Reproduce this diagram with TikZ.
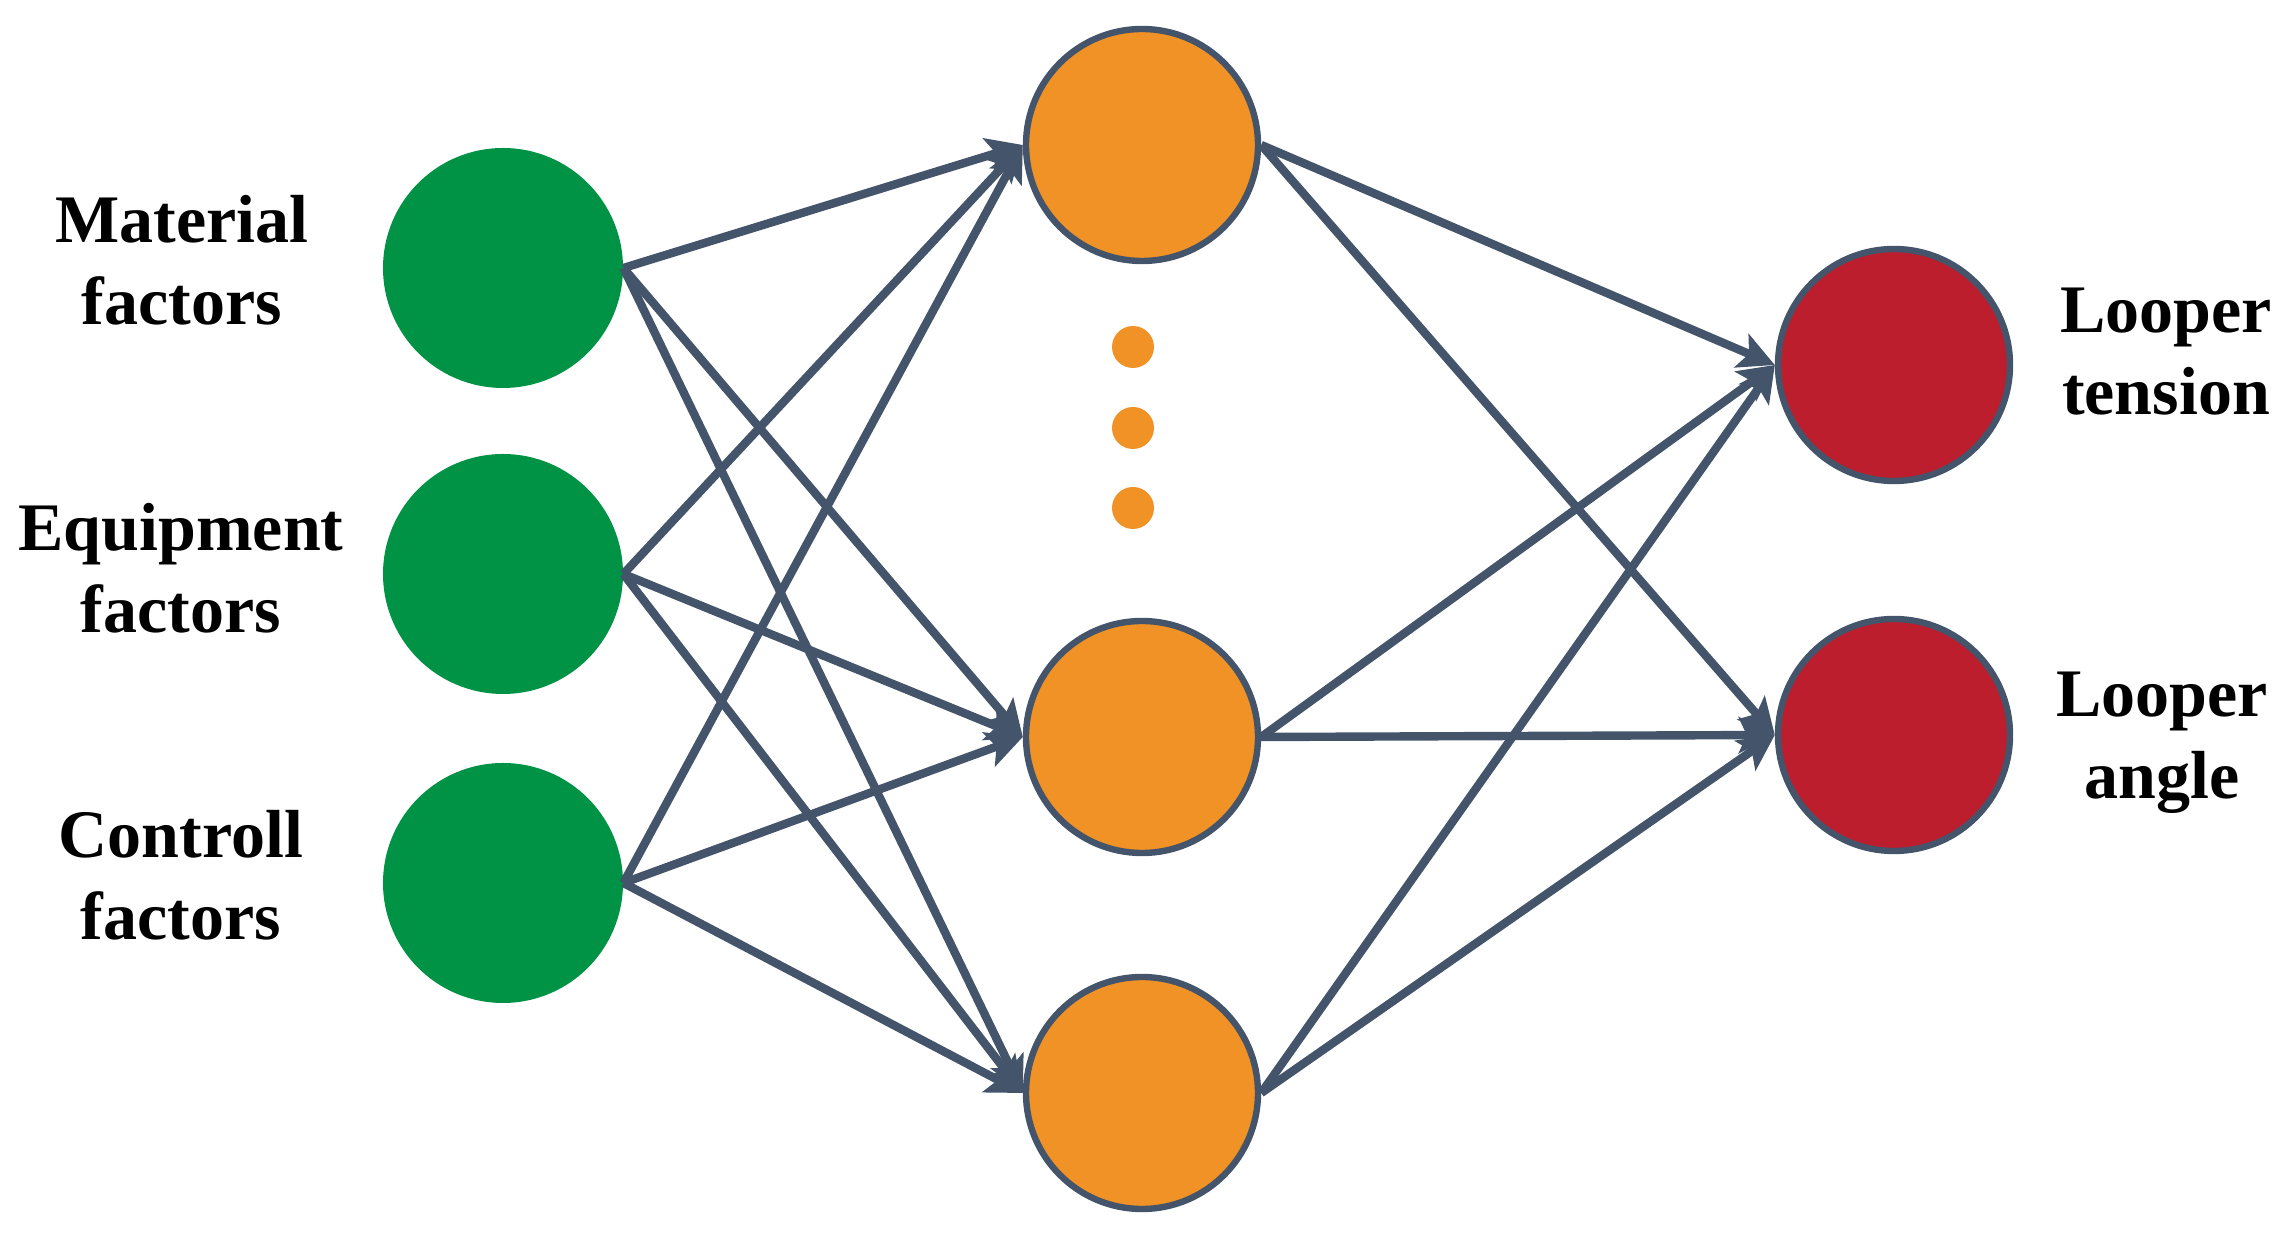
\documentclass[tikz,border=0pt]{standalone}
\usepackage{fontspec}
\setmainfont{Liberation Serif}
\usetikzlibrary{arrows.meta}

\definecolor{inputgreen}{RGB}{0,146,69}
\definecolor{hiddenorange}{RGB}{240,146,38}
\definecolor{outputred}{RGB}{188,30,45}
\definecolor{edgegray}{RGB}{68,84,106}

\begin{document}
\begin{tikzpicture}[x=0.5pt, y=0.5pt,
  every node/.style={font=\fontsize{34}{41}\selectfont\bfseries},
  input/.style={circle, fill=inputgreen, minimum size=120pt, inner sep=0pt},
  hidden/.style={circle, draw=edgegray, line width=3.2pt, fill=hiddenorange, minimum size=116pt, inner sep=0pt},
  output/.style={hidden, fill=outputred},
  dotnode/.style={circle, fill=hiddenorange, minimum size=21pt, inner sep=0pt},
  tag/.style={align=center, inner sep=0pt},
  link/.style={draw=edgegray, line width=4.2pt, -{Stealth[length=18pt,width=18pt,inset=4pt]}}]
  \useasboundingbox (0,0) rectangle (2286,1241);

  % input layer
  \node[input] (mat) at (503,973) {};
  \node[input] (equ) at (503,667) {};
  \node[input] (con) at (503,358) {};
  \node[tag] (matlbl) at (182,981) {Material\\factors};
  \node[tag] (equlbl) at (181,673) {Equipment\\factors};
  \node[tag] (conlbl) at (181,366) {Controll\\factors};

  % hidden layer
  \node[hidden] (h1) at (1142,1096) {};
  \node[hidden] (h2) at (1142,504) {};
  \node[hidden] (h3) at (1142,148) {};
  \node[dotnode] (d1) at (1133,894) {};
  \node[dotnode] (d2) at (1133,813) {};
  \node[dotnode] (d3) at (1133,733) {};

  % output layer
  \node[output] (ten) at (1894,876) {};
  \node[output] (ang) at (1894,506) {};
  \node[tag] (tenlbl) at (2166,889) {Looper\\tension};
  \node[tag] (anglbl) at (2162,498) {Looper\\angle};

  % connections
  \foreach \s in {mat,equ,con}
    \foreach \t in {h1,h2,h3}
      \draw[link] (\s.east) -- (\t.west);
  \foreach \s in {h1,h2,h3}
    \foreach \t in {ten,ang}
      \draw[link] (\s.east) -- (\t.west);

\end{tikzpicture}
\end{document}
